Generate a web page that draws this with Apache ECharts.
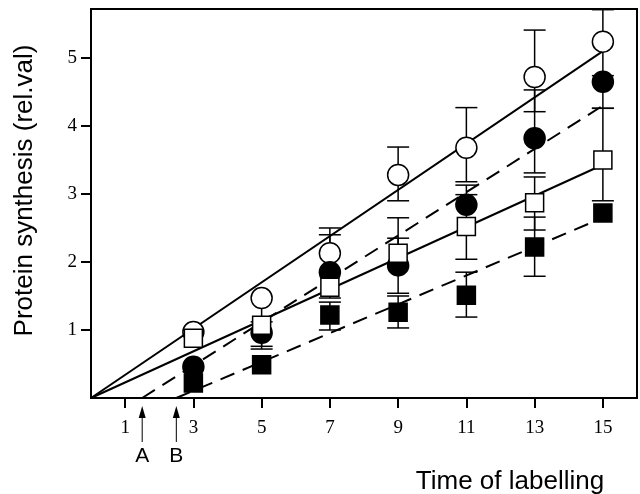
<!DOCTYPE html>
<html>
<head>
<meta charset="utf-8">
<script src="https://cdn.jsdelivr.net/npm/echarts@6/dist/echarts.min.js"></script>
<style>
  html, body { margin: 0; padding: 0; background: #fff; }
  #chart { width: 640px; height: 494px; }
</style>
</head>
<body>
<div id="chart"></div>
<script>
// time points (x)
const times = [3, 5, 7, 9, 11, 13, 15];

// open circles
const openCircle = [0.97, 1.47, 2.13, 3.28, 3.68, 4.72, 5.24];
const openCircleUp = [0, 0, 0.37, 0.41, 0.59, 0.69, 0.47];
const openCircleDown = [0, 0.35, 0, 0.38, 0.5, 0.51, 0.5];

// filled circles
const filledCircle = [0.46, 0.96, 1.85, 1.95, 2.84, 3.82, 4.65];
const filledCircleUp = [0, 0, 0.55, 0.7, 0.29, 0.71, 0];
const filledCircleDown = [0, 0.2, 0, 0.41, 0, 0.51, 0.39];

// open squares
const openSquare = [0.88, 1.07, 1.63, 2.13, 2.52, 2.87, 3.5];
const openSquareUp = [0, 0, 0, 0.22, 0.47, 0.38, 0.76];
const openSquareDown = [0, 0.35, 0.16, 0, 0.48, 0.4, 0.6];

// filled squares
const filledSquare = [0.22, 0.49, 1.22, 1.26, 1.51, 2.22, 2.72];
const filledSquareUp = [0, 0, 0.19, 0.24, 0.34, 0.44, 0];
const filledSquareDown = [0, 0, 0.22, 0.23, 0.32, 0.43, 0];

// regression lines (start and end points)
const fitOpenCircle = [[0, 0], [15, 5.1]];
const fitFilledCircle = [[1.5, 0], [15, 4.3]];
const fitOpenSquare = [[0, 0], [15, 3.43]];
const fitFilledSquare = [[2.5, 0], [15, 2.65]];

// lag markers under the x axis
const lagX = [1.5, 2.5];
const lagLabels = ['A', 'B'];

// ticks
const xTicks = [1, 3, 5, 7, 9, 11, 13, 15];
const yTicks = [1, 2, 3, 4, 5];

const chart = echarts.init(document.getElementById('chart'), null, { renderer: 'canvas' });

function points(ys) {
  return times.map((t, i) => [t, ys[i]]);
}

function errData(ys, up, down) {
  return times.map((t, i) => [t, ys[i], up[i], down[i]]);
}

const CAP = 11;

function renderErr(params, api) {
  const x = api.value(0), y = api.value(1);
  const up = api.value(2), down = api.value(3);
  const c = api.coord([x, y]);
  const style = { stroke: '#000', lineWidth: 1.5 };
  const children = [];
  [[up, 1], [down, -1]].forEach(([e, s]) => {
    if (!e) return;
    const p = api.coord([x, y + s * e]);
    children.push({ type: 'line', shape: { x1: c[0], y1: c[1], x2: p[0], y2: p[1] }, style });
    children.push({ type: 'line', shape: { x1: p[0] - CAP, y1: p[1], x2: p[0] + CAP, y2: p[1] }, style });
  });
  return { type: 'group', children };
}

function renderLag(params, api) {
  const p = api.coord([api.value(0), 0]);
  const x = p[0];
  const tip = p[1] + 8;
  return {
    type: 'group',
    children: [
      { type: 'line', shape: { x1: x, y1: tip + 8, x2: x, y2: tip + 36 }, style: { stroke: '#000', lineWidth: 1 } },
      { type: 'polygon', shape: { points: [[x, tip], [x - 3.5, tip + 12], [x + 3.5, tip + 12]] }, style: { fill: '#000' } },
      { type: 'text', x: x, y: tip + 50, style: {
        text: lagLabels[params.dataIndex], fill: '#000',
        font: '21px "Liberation Sans", Arial, sans-serif',
        align: 'center', verticalAlign: 'middle'
      } }
    ]
  };
}

function fitLine(data, dashed) {
  return {
    type: 'line', data, showSymbol: false, silent: true, z: 2,
    lineStyle: { color: '#000', width: 2, type: dashed ? [15, 9] : 'solid' }
  };
}

function errSeries(ys, up, down) {
  return {
    type: 'custom', data: errData(ys, up, down), renderItem: renderErr,
    encode: { x: 0, y: 1 }, z: 3, silent: true
  };
}

function markSeries(ys, symbol, size, filled) {
  return {
    type: 'scatter', data: points(ys), symbol, symbolSize: size, z: 4,
    itemStyle: { color: filled ? '#000' : '#fff', borderColor: '#000', borderWidth: 1.5, opacity: 1 }
  };
}

const serif = '"Liberation Serif", "Times New Roman", serif';
const sans = '"Liberation Sans", Arial, sans-serif';

const option = {
  animation: false,
  backgroundColor: '#fff',
  grid: {
    left: 91, right: 3, top: 9, bottom: 96,
    outerBoundsMode: 'none', containLabel: false,
    show: true, borderColor: '#000', borderWidth: 2, backgroundColor: 'transparent'
  },
  xAxis: {
    type: 'value', min: 0, max: 16,
    name: 'Time of labelling', nameLocation: 'middle', nameGap: 71,
    nameTextStyle: { fontFamily: sans, fontSize: 26, color: '#000', padding: [0, 0, 0, 292] },
    axisLine: { show: true, onZero: false, lineStyle: { color: '#000', width: 2 } },
    axisTick: { show: true, inside: false, length: 10, customValues: xTicks, lineStyle: { color: '#000', width: 2 } },
    axisLabel: { customValues: xTicks, fontFamily: serif, fontSize: 19, color: '#000', margin: 21 },
    splitLine: { show: false }
  },
  yAxis: {
    type: 'value', min: 0, max: 5.72,
    name: 'Protein synthesis (rel.val)', nameLocation: 'middle', nameGap: 53, nameRotate: 90,
    nameTextStyle: { fontFamily: sans, fontSize: 26, color: '#000', padding: [0, 0, 0, 26] },
    axisLine: { show: true, onZero: false, lineStyle: { color: '#000', width: 2 } },
    axisTick: { show: true, inside: false, length: 10, customValues: yTicks, lineStyle: { color: '#000', width: 2 } },
    axisLabel: { customValues: yTicks, fontFamily: serif, fontSize: 19, color: '#000', margin: 14 },
    splitLine: { show: false }
  },
  series: [
    fitLine(fitOpenCircle, false),
    fitLine(fitFilledCircle, true),
    fitLine(fitOpenSquare, false),
    fitLine(fitFilledSquare, true),
    errSeries(openCircle, openCircleUp, openCircleDown),
    errSeries(filledCircle, filledCircleUp, filledCircleDown),
    errSeries(openSquare, openSquareUp, openSquareDown),
    errSeries(filledSquare, filledSquareUp, filledSquareDown),
    markSeries(openCircle, 'circle', 21, false),
    markSeries(filledCircle, 'circle', 21, true),
    markSeries(openSquare, 'rect', 18, false),
    markSeries(filledSquare, 'rect', 18, true),
    {
      type: 'custom', data: lagX.map(v => [v, 0]), renderItem: renderLag,
      encode: { x: 0, y: 1 }, clip: false, silent: true, z: 5
    }
  ]
};

chart.setOption(option);
</script>
</body>
</html>
